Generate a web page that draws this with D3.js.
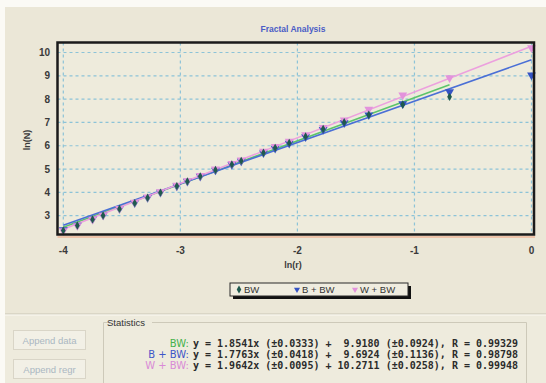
<!DOCTYPE html>
<html>
<head>
<meta charset="utf-8">
<script src="https://cdn.jsdelivr.net/npm/d3@7"></script>
<style>
  body { margin: 0; background: #fbfaf5; }
  svg { display: block; }
</style>
</head>
<body>
<svg id="chart" width="546" height="383"></svg>
<script>
// ln(r) positions of the box sizes
const lnR = [-4.00, -3.88, -3.75, -3.66, -3.52, -3.39, -3.28, -3.17, -3.03, -2.94, -2.83, -2.70,
             -2.56, -2.48, -2.29, -2.19, -2.07, -1.93, -1.78, -1.60, -1.39, -1.10, -0.70, 0.00];

// ln(N) for each series (BW has no point at ln(r) = 0)
const bwValues  = [2.37, 2.58, 2.84, 3.01, 3.29, 3.54, 3.77, 3.99, 4.27, 4.47, 4.69, 4.96,
                   5.20, 5.35, 5.70, 5.91, 6.12, 6.40, 6.72, 7.01, 7.33, 7.77, 8.10];
const bbwValues = [2.39, 2.59, 2.85, 3.02, 3.30, 3.55, 3.78, 4.00, 4.27, 4.47, 4.69, 4.95,
                   5.19, 5.34, 5.69, 5.89, 6.10, 6.38, 6.69, 6.98, 7.32, 7.80, 8.31, 9.03];
const wbwValues = [2.35, 2.57, 2.84, 3.02, 3.31, 3.57, 3.80, 4.02, 4.30, 4.50, 4.72, 5.00,
                   5.24, 5.39, 5.76, 5.97, 6.19, 6.47, 6.78, 7.10, 7.56, 8.17, 8.91, 10.20];

const seriesNames = ["BW", "B + BW", "W + BW"];
const slopes = [1.8541, 1.7763, 1.9642];
const intercepts = [9.9180, 9.6924, 10.2711];
const statLines = [
  "y = 1.8541x (±0.0333) +  9.9180 (±0.0924), R = 0.99329",
  "y = 1.7763x (±0.0418) +  9.6924 (±0.1136), R = 0.98798",
  "y = 1.9642x (±0.0095) + 10.2711 (±0.0258), R = 0.99948"
];
const xTicks = [-4, -3, -2, -1, 0];
const yTicks = [3, 4, 5, 6, 7, 8, 9, 10];

const markColors = ["#1f5a4e", "#3553c4", "#e393dc"];
const lineColors = ["#5cc46a", "#4a6fd6", "#eca0de"];
const labelColors = ["#45b24c", "#3d56c8", "#d98ad6"];

const svg = d3.select("#chart");
const font = "Arial, 'Liberation Sans', sans-serif";

// window background
svg.append("rect").attr("x", 5).attr("y", 7).attr("width", 541).attr("height", 376).attr("fill", "#ebe7d7");
svg.append("rect").attr("x", 5).attr("y", 315).attr("width", 541).attr("height", 68).attr("fill", "#eeebdd");
svg.append("line").attr("x1", 5).attr("x2", 546).attr("y1", 314).attr("y2", 314).attr("stroke", "#c9c5b5");
svg.append("line").attr("x1", 5).attr("x2", 546).attr("y1", 315).attr("y2", 315).attr("stroke", "#fbfaf4");

// plot frame
const frame = { left: 57.5, right: 534, top: 42.5, bottom: 234.5 };
const x = d3.scaleLinear().domain([-4, 0]).range([63.3, 531.5]);
const y = d3.scaleLinear().domain([3, 10]).range([215.7, 52.5]);

svg.append("rect")
  .attr("x", frame.left).attr("y", frame.top)
  .attr("width", frame.right - frame.left).attr("height", frame.bottom - frame.top)
  .attr("fill", "#eeebdc");

// grid
const grid = svg.append("g").attr("stroke", "#8cc3d8").attr("stroke-width", 1.2).attr("stroke-dasharray", "3,3");
grid.selectAll(".gx").data(xTicks).join("line")
  .attr("x1", d => x(d)).attr("x2", d => x(d))
  .attr("y1", frame.top).attr("y2", frame.bottom);
grid.selectAll(".gy").data(yTicks).join("line")
  .attr("x1", frame.left).attr("x2", frame.right)
  .attr("y1", d => y(d)).attr("y2", d => y(d));

// tick labels
svg.append("g").selectAll("text").data(yTicks).join("text")
  .attr("x", 50).attr("y", d => y(d) + 3.5)
  .attr("text-anchor", "end")
  .attr("font-family", font).attr("font-weight", "bold").attr("font-size", 10)
  .attr("fill", "#3a3a3a")
  .text(d => d);
svg.append("g").selectAll("text").data(xTicks).join("text")
  .attr("x", d => x(d)).attr("y", 254)
  .attr("text-anchor", "middle")
  .attr("font-family", font).attr("font-weight", "bold").attr("font-size", 10)
  .attr("fill", "#3a3a3a")
  .text(d => d === 0 ? "0" : String(d));

// titles
svg.append("text").attr("x", 293).attr("y", 32).attr("text-anchor", "middle")
  .attr("font-family", font).attr("font-size", 8.5).attr("font-weight", "bold")
  .attr("fill", "#4a5cc6").text("Fractal Analysis");
svg.append("text").attr("x", 293).attr("y", 268).attr("text-anchor", "middle")
  .attr("font-family", font).attr("font-size", 9).attr("font-weight", "bold")
  .attr("fill", "#3a3a3a").text("ln(r)");
svg.append("text").attr("transform", "translate(30,140) rotate(-90)").attr("text-anchor", "middle")
  .attr("font-family", font).attr("font-size", 9).attr("font-weight", "bold")
  .attr("fill", "#3a3a3a").text("ln(N)");

// regression lines, drawn over each series' x range
const allSeries = [bwValues, bbwValues, wbwValues];
const lineGen = d3.line().x(d => x(d[0])).y(d => y(d[1]));
allSeries.forEach((vals, i) => {
  const xs = lnR.slice(0, vals.length);
  const ends = [d3.min(xs), d3.max(xs)];
  svg.append("path")
    .attr("d", lineGen(ends.map(v => [v, slopes[i] * v + intercepts[i]])))
    .attr("stroke", lineColors[i]).attr("stroke-width", 1.6).attr("fill", "none");
});

// markers: blue, then pink, diamonds on top
const tri = d3.symbol().type(d3.symbolTriangle).size(34);
const dia = d3.symbol().type(d3.symbolDiamond).size(20);
[1, 2, 0].forEach(i => {
  const vals = allSeries[i];
  svg.append("g").selectAll("path").data(vals).join("path")
    .attr("transform", (d, j) => `translate(${x(lnR[j])},${y(d)})` + (i === 0 ? "" : " rotate(180)"))
    .attr("d", i === 0 ? dia : tri)
    .attr("fill", markColors[i]);
});

// frame border
svg.append("line").attr("x1", frame.left).attr("x2", frame.right + 1).attr("y1", frame.bottom + 2.5).attr("y2", frame.bottom + 2.5)
  .attr("stroke", "#f2a27e").attr("stroke-width", 1.2);
svg.append("rect")
  .attr("x", frame.left).attr("y", frame.top)
  .attr("width", frame.right - frame.left).attr("height", frame.bottom - frame.top)
  .attr("fill", "none").attr("stroke", "#1b1b1b").attr("stroke-width", 2.5);

// legend
const legend = svg.append("g");
legend.append("rect").attr("x", 233).attr("y", 286).attr("width", 178).attr("height", 13).attr("fill", "#111");
legend.append("rect").attr("x", 230).attr("y", 283).attr("width", 178).attr("height", 13)
  .attr("fill", "#efecdf").attr("stroke", "#2a2a2a").attr("stroke-width", 1);
const legendX = [239, 297, 355];
seriesNames.forEach((name, i) => {
  legend.append("path")
    .attr("transform", `translate(${legendX[i]},289.5)` + (i === 0 ? "" : " rotate(180)"))
    .attr("d", i === 0 ? d3.symbol().type(d3.symbolDiamond).size(18) : d3.symbol().type(d3.symbolTriangle).size(16))
    .attr("fill", markColors[i]);
  legend.append("text").attr("x", legendX[i] + 5).attr("y", 293)
    .attr("font-family", font).attr("font-size", 9.5).attr("fill", "#333")
    .text(name);
});

// buttons
const buttons = ["Append data", "Append regr"];
buttons.forEach((b, i) => {
  const by = 330 + i * 29;
  svg.append("rect").attr("x", 13.5).attr("y", by + 0.5).attr("width", 72).attr("height", 19)
    .attr("fill", "#f2f0e6").attr("stroke", "#d9d5c7");
  svg.append("text").attr("x", 49.5).attr("y", by + 13.5).attr("text-anchor", "middle")
    .attr("font-family", font).attr("font-size", 9.5).attr("fill", "#aab7c2").text(b);
});

// statistics group box
svg.append("path").attr("d", "M108,322.5 H103.5 V383 M152,322.5 H526.5 V383")
  .attr("fill", "none").attr("stroke", "#cdc9b9");
svg.append("text").attr("x", 107).attr("y", 326).attr("font-family", font).attr("font-size", 9.5)
  .attr("fill", "#333").text("Statistics");
seriesNames.forEach((name, i) => {
  const ly = 347 + i * 11;
  svg.append("text").attr("x", 189).attr("y", ly).attr("text-anchor", "end")
    .attr("font-family", "Tahoma, 'DejaVu Sans', sans-serif").attr("font-size", 10)
    .attr("fill", labelColors[i]).text(name + ":");
  svg.append("text").attr("x", 193).attr("y", ly).attr("xml:space", "preserve")
    .style("white-space", "pre")
    .attr("font-family", "'DejaVu Sans Mono', 'Liberation Mono', monospace").attr("font-weight", "bold").attr("font-size", 10)
    .attr("fill", "#2b2b2b").text(statLines[i]);
});
</script>
</body>
</html>
